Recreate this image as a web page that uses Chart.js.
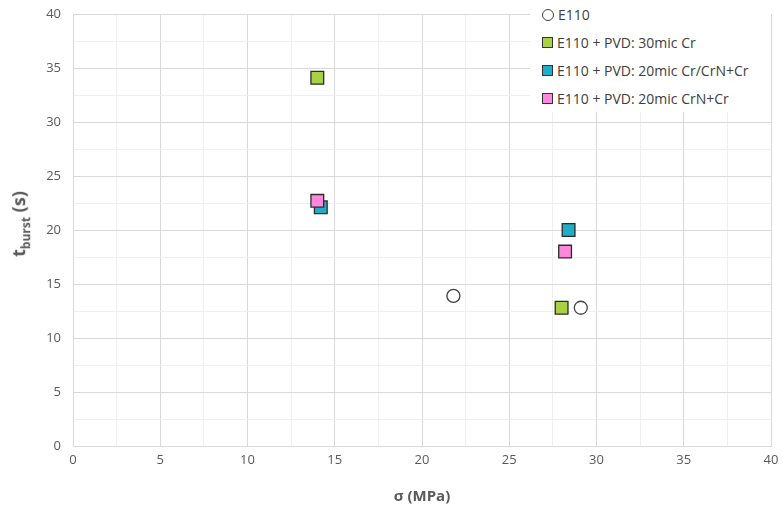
<!DOCTYPE html>
<html>
<head>
<meta charset="utf-8">
<script src="https://cdn.jsdelivr.net/npm/chart.js@4.4.1/dist/chart.umd.min.js"></script>
<style>
  body { margin: 0; background: #fff; font-family: "Open Sans", "Noto Sans", sans-serif; }
  #wrap { position: relative; width: 783px; height: 510px; }
  #legend { position: absolute; left: 530px; top: 0px; width: 241px; height: 112px; background: #fff;
            font-size: 14px; color: #404040; }
  #legend div { position: absolute; left: 12px; display: flex; align-items: center; white-space: nowrap; }
  #legend span.m { display: inline-block; width: 11px; height: 11px; border: 1.5px solid #333; margin-right: 4px; box-sizing: border-box; }
  #ytitle { position: absolute; left: 20px; top: 224px; transform: translate(-50%, -50%) rotate(-90deg);
            font-weight: bold; font-size: 18px; color: #595959; white-space: nowrap; }
  #ytitle sub { font-size: 12px; }
</style>
</head>
<body>
<div id="wrap">
  <canvas id="c" width="783" height="510"></canvas>
  <div id="legend"></div>
  <div id="ytitle">t<sub>burst</sub> (s)</div>
</div>
<script>
const seriesNames = ['E110', 'E110 + PVD: 30mic Cr', 'E110 + PVD: 20mic Cr/CrN+Cr', 'E110 + PVD: 20mic CrN+Cr'];
const e110X = [21.8, 29.1];
const e110Y = [13.9, 12.8];
const cr30X = [14.0, 28.0];
const cr30Y = [34.1, 12.8];
const crCrnX = [14.2, 28.4];
const crCrnY = [22.1, 20.0];
const crnCrX = [14.0, 28.2];
const crnCrY = [22.7, 18.0];
const xTicks = [0, 5, 10, 15, 20, 25, 30, 35, 40];
const yTicks = [0, 5, 10, 15, 20, 25, 30, 35, 40];

const fills = ['#ffffff', '#a8d144', '#1eaec8', '#ff88dd'];
const pts = (xs, ys) => xs.map((x, i) => ({ x, y: ys[i] }));
const seriesData = [pts(e110X, e110Y), pts(cr30X, cr30Y), pts(crCrnX, crCrnY), pts(crnCrX, crnCrY)];

const datasets = seriesData.map((d, i) => ({
  label: seriesNames[i],
  data: d,
  order: 3 - i,   // later series on top
  pointStyle: i === 0 ? 'circle' : 'rect',
  pointRadius: i === 0 ? 6.5 : 9,
  backgroundColor: fills[i],
  borderColor: i === 0 ? '#404040' : '#2b2b2b',
  borderWidth: 1.3
}));

const gridColor = ctx => (ctx.tick && ctx.tick.value % 5 === 0) ? '#d9d9d9' : '#efefef';

new Chart(document.getElementById('c'), {
  type: 'scatter',
  data: { datasets },
  options: {
    responsive: false,
    animation: false,
    layout: { padding: { left: 0, right: 12, top: 14, bottom: 0 } },
    plugins: { legend: { display: false }, tooltip: { enabled: false } },
    scales: {
      x: {
        type: 'linear', min: 0, max: 40,
        afterFit: s => { s.height = 64; s.paddingLeft = 0; s.paddingRight = 0; },
        afterBuildTicks: s => { s.ticks = []; for (let v = 0; v <= 40; v += 2.5) s.ticks.push({ value: v }); },
        ticks: { color: '#595959', font: { size: 13, family: 'Open Sans' }, padding: 6,
                 callback: v => xTicks.includes(v) ? v : '' },
        grid: { color: gridColor, lineWidth: 1, drawTicks: false },
        border: { color: '#d9d9d9' },
        title: { display: true, text: 'σ (MPa)', color: '#595959', font: { size: 15, weight: 'bold', family: 'Open Sans' }, padding: { top: 8 } }
      },
      y: {
        type: 'linear', min: 0, max: 40,
        afterFit: s => { s.width = 73; s.paddingTop = 0; s.paddingBottom = 0; },
        afterBuildTicks: s => { s.ticks = []; for (let v = 0; v <= 40; v += 2.5) s.ticks.push({ value: v }); },
        ticks: { color: '#595959', font: { size: 13, family: 'Open Sans' }, padding: 12,
                 callback: v => yTicks.includes(v) ? v : '' },
        grid: { color: gridColor, lineWidth: 1, drawTicks: false },
        border: { color: '#d9d9d9' }
      }
    }
  }
});

// legend box drawn over the grid, like the original
const lg = document.getElementById('legend');
lg.innerHTML = seriesNames.map((n, i) => {
  const mark = i === 0
    ? `<span class="m" style="border-radius:50%;border-color:#404040;background:#fff;width:12px;height:12px"></span>`
    : `<span class="m" style="background:${fills[i]}"></span>`;
  return `<div style="top:${5 + i * 28}px">${mark}${n}</div>`;
}).join('');
</script>
</body>
</html>
